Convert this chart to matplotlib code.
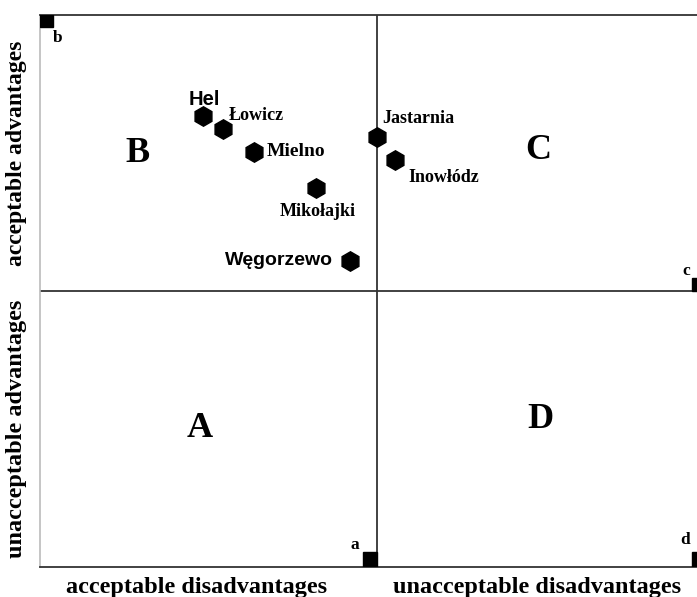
import matplotlib.pyplot as plt

# towns (x: disadvantages, y: advantages), divider at 1 on both axes
towns = ['Hel', 'Łowicz', 'Mielno', 'Mikołajki', 'Węgorzewo', 'Jastarnia', 'Inowłódz']
town_x = [0.484, 0.543, 0.635, 0.819, 0.920, 1.000, 1.053]
town_y = [1.634, 1.587, 1.504, 1.373, 1.109, 1.558, 1.475]
# label offsets in points and font per town
label_dx = [1, 24, 30, 1, -51, 30, 35]
label_dy = [12, 10, 0, -17, 0, 13, -13]
label_sans = [True, False, False, False, True, False, False]

quad_names = ['A', 'B', 'C', 'D']
quad_x = [0.475, 0.288, 1.478, 1.484]
quad_y = [0.503, 1.498, 1.509, 0.533]

corner_names = ['a', 'b', 'c', 'd']
corner_x = [0.935, 0.053, 1.917, 1.914]
corner_y = [0.080, 1.917, 1.072, 0.098]

serif = 'Liberation Serif'
sans = 'Liberation Sans'

fig = plt.figure(figsize=(6.97, 5.97), dpi=100)
ax = fig.add_axes([40 / 697, 30 / 597, 674 / 697, 552 / 597])
ax.set_xlim(0, 2)
ax.set_ylim(0, 2)
ax.set_xticks([])
ax.set_yticks([])
for s in ['top', 'bottom']:
    ax.spines[s].set_color('#333333')
    ax.spines[s].set_linewidth(1.3)
ax.spines['left'].set_color('#bbbbbb')
ax.spines['left'].set_linewidth(1.2)
ax.spines['right'].set_visible(False)

ax.axvline(1, color='#333333', lw=1.3)
ax.axhline(1, color='#333333', lw=1.3)

# corner squares
ax.add_patch(plt.Rectangle((0, 2 - 12 / 276), 13 / 337, 12 / 276, color='black', zorder=3))
ax.add_patch(plt.Rectangle((1 - 14 / 337, 0), 14 / 337, 15 / 276, color='black', zorder=3))
ax.add_patch(plt.Rectangle((2 - 22 / 337, 1), 14 / 337, 13 / 276, color='black', zorder=3))
ax.add_patch(plt.Rectangle((2 - 22 / 337, 0), 14 / 337, 15 / 276, color='black', zorder=3))
for n, x, y in zip(corner_names, corner_x, corner_y):
    ax.text(x, y, n, family=serif, weight='bold', fontsize=12.5, ha='center', va='center')

ax.plot(town_x, town_y, 'h', color='black', markersize=14, zorder=4)
for t, x, y, dx, dy, sn in zip(towns, town_x, town_y, label_dx, label_dy, label_sans):
    if sn:
        ax.annotate(t, (x, y), xytext=(dx, dy), textcoords='offset points',
                    family=sans, weight='bold', fontsize=14.5 if t == 'Hel' else 14,
                    ha='center', va='center')
    else:
        ax.annotate(t, (x, y), xytext=(dx, dy), textcoords='offset points',
                    family=serif, weight='bold', fontsize=13 if t != 'Mielno' else 14,
                    ha='center', va='center')

for q, x, y in zip(quad_names, quad_x, quad_y):
    ax.text(x, y, q, family=serif, weight='bold', fontsize=26, ha='center', va='center')

fig.text(17 / 697, 1 - 153 / 597, 'acceptable advantages', family=serif, weight='bold',
         fontsize=17, rotation=90, ha='center', va='center')
fig.text(17 / 697, 1 - 429 / 597, 'unacceptable advantages', family=serif, weight='bold',
         fontsize=17.5, rotation=90, ha='center', va='center')
fig.text(197 / 697, 1 - 588 / 597, 'acceptable disadvantages', family=serif, weight='bold',
         fontsize=17.5, ha='center', va='center')
fig.text(537 / 697, 1 - 588 / 597, 'unacceptable disadvantages', family=serif, weight='bold',
         fontsize=17.5, ha='center', va='center')

fig.savefig('out.png', dpi=100)
